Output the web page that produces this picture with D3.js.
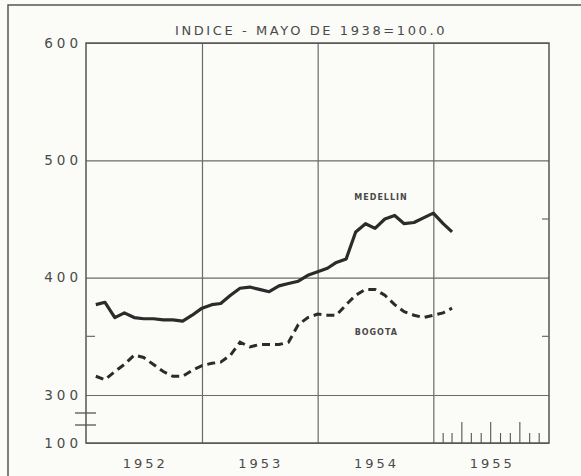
<!DOCTYPE html>
<html>
<head>
<meta charset="utf-8">
<script src="https://cdn.jsdelivr.net/npm/d3@7"></script>
<style>
  body { margin: 0; background: #fbfbf8; }
  svg { display: block; }
  text { font-family: "DejaVu Sans", sans-serif; fill: #4a4a4a; }
</style>
</head>
<body>
<div id="svg-area"></div>
<script>
// monthly index values
var months = ["1952-02", "1952-03", "1952-04", "1952-05", "1952-06", "1952-07", "1952-08", "1952-09",
    "1952-10", "1952-11", "1952-12", "1953-01", "1953-02", "1953-03", "1953-04", "1953-05",
    "1953-06", "1953-07", "1953-08", "1953-09", "1953-10", "1953-11", "1953-12", "1954-01",
    "1954-02", "1954-03", "1954-04", "1954-05", "1954-06", "1954-07", "1954-08", "1954-09",
    "1954-10", "1954-11", "1954-12", "1955-01", "1955-02", "1955-03"];

var medellin = [377, 379, 366, 370, 366, 365, 365, 364, 364, 363, 368, 374,
    377, 378, 385, 391, 392, 390, 388, 393, 395, 397, 402, 405,
    408, 413, 416, 439, 446, 442, 450, 453, 446, 447, 451, 455, 446, 439];

var bogota = [316, 313, 320, 326, 334, 332, 326, 320, 316, 316, 321, 325,
    327, 328, 334, 345, 341, 343, 343, 343, 345, 360, 366, 369,
    368, 368, 377, 385, 390, 390, 385, 377, 371, 368, 366, 368, 370, 374];

var yTicks = [100, 300, 400, 500, 600];
var yearLabels = ["1952", "1953", "1954", "1955"];
var title = "INDICE - MAYO DE 1938=100.0";

// svg container
var svgWidth = 581;
var svgHeight = 476;

var margin = { top: 43, right: 32, bottom: 33, left: 86 };
var chartWidth = svgWidth - margin.left - margin.right;
var chartHeight = svgHeight - margin.top - margin.bottom;

var svg = d3.select("#svg-area").append("svg")
    .attr("width", svgWidth)
    .attr("height", svgHeight);

// outer frame of the page (left and top edges only)
svg.append("path")
    .attr("d", "M8,480 L8,5 L590,5")
    .attr("fill", "none")
    .attr("stroke", "#555")
    .attr("stroke-width", 1.5);

var chartGroup = svg.append("g")
    .attr("transform", `translate(${margin.left}, ${margin.top})`);

var parseMonth = d3.timeParse("%Y-%m");

// x scale covers 1952 through 1955
var xScale = d3.scaleTime()
    .domain([new Date(1952, 0, 1), new Date(1956, 0, 1)])
    .range([0, chartWidth]);

// broken y scale: 100 sits just below 300
var yScale = d3.scaleLinear()
    .domain([100, 300, 600])
    .range([chartHeight, chartHeight - 48, 0]);

// horizontal grid + labels
var leftAxis = d3.axisLeft(yScale)
    .tickValues(yTicks)
    .tickSize(-chartWidth)
    .tickSizeOuter(0)
    .tickPadding(4);

var yAxis = chartGroup.append("g")
    .call(leftAxis);
yAxis.select(".domain").remove();
yAxis.selectAll("line").attr("stroke", "#6a6a6a").attr("stroke-width", 1.2);
yAxis.selectAll("text")
    .attr("font-size", "13.5px")
    .attr("letter-spacing", "4px")
    .attr("fill", "#4a4a4a");

// vertical year lines
var yearBounds = [1953, 1954, 1955].map(y => new Date(y, 0, 1));
var bottomAxis = d3.axisBottom(xScale)
    .tickValues(yearBounds)
    .tickSize(-chartHeight)
    .tickFormat("");

var xAxis = chartGroup.append("g")
    .attr("transform", `translate(0, ${chartHeight})`)
    .call(bottomAxis);
xAxis.select(".domain").remove();
xAxis.selectAll("line").attr("stroke", "#6a6a6a").attr("stroke-width", 1.2);

// year labels in the middle of each year
chartGroup.selectAll(".year-label")
    .data(yearLabels)
    .enter()
    .append("text")
    .attr("class", "year-label")
    .attr("x", d => xScale(new Date(+d, 6, 1)) + 1.5)
    .attr("y", chartHeight + 25)
    .attr("text-anchor", "middle")
    .attr("font-size", "13px")
    .attr("letter-spacing", "3px")
    .text(d => d);

// plot border
chartGroup.append("rect")
    .attr("width", chartWidth)
    .attr("height", chartHeight)
    .attr("fill", "none")
    .attr("stroke", "#555")
    .attr("stroke-width", 1.5);

// minor ticks at 350 / 450
chartGroup.append("line")
    .attr("x1", 0).attr("x2", 9)
    .attr("y1", yScale(350)).attr("y2", yScale(350))
    .attr("stroke", "#6a6a6a").attr("stroke-width", 1.2);
chartGroup.selectAll(".rtick")
    .data([350, 450])
    .enter()
    .append("line")
    .attr("x1", chartWidth - 7).attr("x2", chartWidth)
    .attr("y1", d => yScale(d)).attr("y2", d => yScale(d))
    .attr("stroke", "#6a6a6a").attr("stroke-width", 1.2);

// axis break marks
[30, 18].forEach(function (off) {
    chartGroup.append("line")
        .attr("x1", -11).attr("x2", 10)
        .attr("y1", chartHeight - off).attr("y2", chartHeight - off)
        .attr("stroke", "#555").attr("stroke-width", 1.3);
});

// month ticks in 1955
var monthTicks = d3.timeMonth.range(new Date(1955, 1, 1), new Date(1956, 0, 1));
chartGroup.selectAll(".mtick")
    .data(monthTicks)
    .enter()
    .append("line")
    .attr("x1", d => xScale(d)).attr("x2", d => xScale(d))
    .attr("y1", chartHeight)
    .attr("y2", d => chartHeight - ([3, 6, 9].includes(d.getMonth()) ? 21 : 10))
    .attr("stroke", "#555").attr("stroke-width", 1.1);

// lines
var line = d3.line()
    .x((d, i) => xScale(parseMonth(months[i])))
    .y(d => yScale(d));

chartGroup.append("path")
    .datum(medellin)
    .attr("d", line)
    .attr("fill", "none")
    .attr("stroke", "#2b2b2b")
    .attr("stroke-width", 3.2)
    .attr("stroke-linejoin", "round");

chartGroup.append("path")
    .datum(bogota)
    .attr("d", line)
    .attr("fill", "none")
    .attr("stroke", "#2b2b2b")
    .attr("stroke-width", 3)
    .attr("stroke-dasharray", "8,5");

// series labels
chartGroup.append("text")
    .attr("x", xScale(new Date(1954, 6, 20)))
    .attr("y", 157)
    .attr("text-anchor", "middle")
    .attr("font-size", "8px")
    .attr("font-weight", "bold")
    .attr("letter-spacing", "1px")
    .text("MEDELLIN");

chartGroup.append("text")
    .attr("x", xScale(new Date(1954, 6, 5)))
    .attr("y", 292)
    .attr("text-anchor", "middle")
    .attr("font-size", "8px")
    .attr("font-weight", "bold")
    .attr("letter-spacing", "1px")
    .text("BOGOTA");

// title
svg.append("text")
    .attr("x", 311)
    .attr("y", 35)
    .attr("text-anchor", "middle")
    .attr("font-size", "13px")
    .attr("letter-spacing", "2.6px")
    .text(title);
</script>
</body>
</html>
